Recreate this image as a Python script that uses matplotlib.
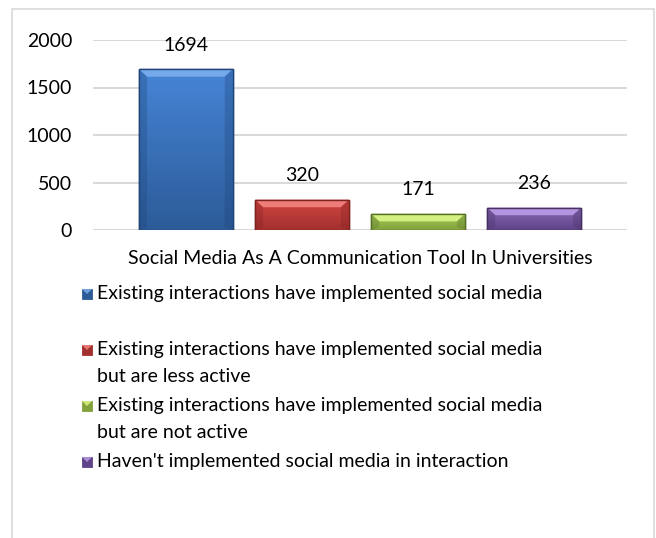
import numpy as np
import matplotlib
matplotlib.use("Agg")
import matplotlib.pyplot as plt
from matplotlib.patches import Rectangle, Polygon
from matplotlib.colors import LinearSegmentedColormap

plt.rcParams['font.family'] = ['Lato', 'DejaVu Sans']

# Survey counts for each group
labels = [
    "Existing interactions have implemented social media",
    "Existing interactions have implemented social media\nbut are less active",
    "Existing interactions have implemented social media\nbut are not active",
    "Haven't implemented social media in interaction",
]
values = [1694, 320, 171, 236]
category = "Social Media As A Communication Tool In Universities"

# top / bottom shade of each bar, bevel highlight and edge colour
tops_c = ["#4685d6", "#d24643", "#a9cf5c", "#8a6bba"]
bottoms_c = ["#2c5b98", "#a3302e", "#82a23c", "#5f4388"]
lights = ["#7fb0f0", "#f58884", "#e0fa8c", "#bd9eea"]
darks = ["#1f4477", "#7e2220", "#586f27", "#45315f"]

W, H = 656, 538
fs = 14
fig = plt.figure(figsize=(W / 100, H / 100), dpi=100)
fig.patch.set_facecolor("white")

# outer chart border
fig.add_artist(Rectangle((12 / W, -0.01), (654 - 12) / W, (H - 9) / H + 0.01,
                         transform=fig.transFigure, fill=False,
                         edgecolor="#d9d9d9", linewidth=1.2))

ax = fig.add_axes([93 / W, (H - 230) / H, (627 - 93) / W, 190 / H])
ax.set_ylim(0, 2000)
ax.set_yticks([0, 500, 1000, 1500, 2000])
ax.grid(axis="y", color="#d9d9d9", linewidth=1.5)
ax.set_axisbelow(True)
for s in ax.spines.values():
    s.set_visible(False)
ax.tick_params(axis="y", length=0, pad=15, labelsize=fs, labelcolor="#000000")
ax.set_xticks([])

x = np.arange(len(values))
bw = 0.81
bars = ax.bar(x, values, width=bw, color=bottoms_c, edgecolor=darks,
              linewidth=1.0, zorder=2)

# vertical shading inside each bar, then bevel highlight and side shadows
grad = np.linspace(0, 1, 256).reshape(-1, 1)
dx, dy = 0.07, 80
for b, xi, v, tc, bc, lc, dc in zip(bars, x, values, tops_c, bottoms_c, lights, darks):
    l, r = xi - bw / 2, xi + bw / 2
    cmap = LinearSegmentedColormap.from_list("shade", [bc, tc])
    im = ax.imshow(grad, cmap=cmap, extent=(l, r, 0, v), origin="lower",
                   aspect="auto", zorder=2.5)
    im.set_clip_path(b)
    ax.add_patch(Polygon([(l, v), (r, v), (r - dx, v - dy), (l + dx, v - dy)],
                         closed=True, facecolor=lc, edgecolor="none", alpha=0.85, zorder=3))
    ax.add_patch(Polygon([(l, 0), (l + dx, dy * 0.4), (l + dx, v - dy), (l, v)],
                         closed=True, facecolor=dc, edgecolor="none", alpha=0.3, zorder=3))
    ax.add_patch(Polygon([(r, 0), (r - dx, dy * 0.4), (r - dx, v - dy), (r, v)],
                         closed=True, facecolor=dc, edgecolor="none", alpha=0.3, zorder=3))
    ax.add_patch(Rectangle((l, 0), bw, v, facecolor="none", edgecolor=dc,
                           linewidth=1.0, zorder=3.5))
    ax.text(xi, v + 2000 * 24 / 190, str(v), ha="center", va="center",
            fontsize=fs, color="#000000", zorder=4)

ax.set_xlim(-0.8, 3.8)
ax.set_ylim(0, 2000)

ax.text(1.5, -2000 * 28 / 190, category, ha="center", va="center", fontsize=fs,
        clip_on=False)

# legend entries drawn in figure pixels
tops = [294, 350, 406, 462]
ms = 10
for lab, tc, bc, lc, top in zip(labels, tops_c, bottoms_c, lights, tops):
    x0, y0 = 82, H - top - ms / 2
    fig.add_artist(Rectangle((x0 / W, y0 / H), ms / W, ms / H,
                             transform=fig.transFigure, facecolor=bc,
                             edgecolor=bc, linewidth=0.6))
    fig.add_artist(Polygon([(x0 / W, (y0 + ms) / H), ((x0 + ms) / W, (y0 + ms) / H),
                            ((x0 + ms / 2) / W, (y0 + ms / 2) / H)],
                           closed=True, transform=fig.transFigure,
                           facecolor=lc, edgecolor="none", alpha=0.8))
    lines = lab.split("\n")
    for k, line in enumerate(lines):
        fig.text(97 / W, (H - top - 26 * k) / H, line, ha="left", va="center",
                 fontsize=fs, color="#000000")

fig.savefig("out.png", dpi=100)
